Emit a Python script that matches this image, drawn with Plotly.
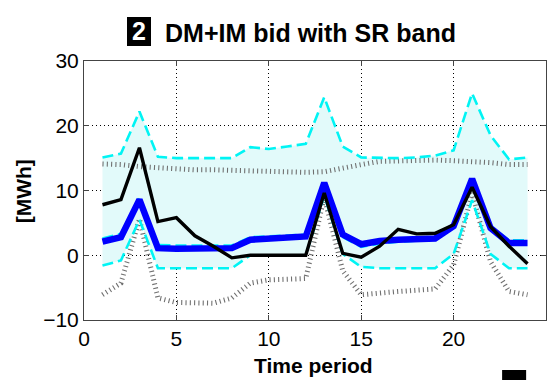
import plotly.graph_objects as go

# Hourly periods
periods = list(range(1, 25))

# Realised energy (black)
realised = [7.8, 8.6, 16.6, 5.2, 5.8, 3.0, 1.4, -0.4, 0.0, 0.0, 0.0, 0.0,
            9.6, 0.3, -0.3, 1.4, 4.0, 3.3, 3.4, 4.7, 10.5, 4.4, 1.4, -1.3]

# DM+IM bid (blue)
bid = [2.1, 2.8, 8.6, 1.1, 1.0, 1.1, 1.2, 1.1, 2.4, 2.6, 2.7, 2.9,
       11.2, 3.2, 1.7, 2.2, 2.4, 2.6, 2.6, 4.5, 11.8, 4.2, 1.9, 1.9]

# Expected scenario (cyan dashed, mostly under the bid)
expected = [2.6, 3.3, 8.9, 1.6, 1.5, 1.5, 1.6, 1.5, 2.8, 2.9, 3.0, 3.2,
            10.8, 2.8, 1.3, 1.8, 2.1, 2.3, 2.4, 4.3, 11.2, 4.5, 2.3, 2.3]

# Scenario envelope (cyan dashed)
upper_band = [15.1, 15.7, 22.2, 15.2, 15.0, 15.0, 14.9, 15.0, 16.7, 16.4, 16.8, 17.2,
              24.4, 16.8, 15.1, 15.0, 15.0, 15.1, 15.4, 16.2, 25.0, 18.5, 14.8, 15.1]
lower_band = [-1.6, -0.8, 5.5, -2.0, -2.0, -2.0, -2.0, -2.0, 0.0, 0.0, 0.0, 0.0,
              9.2, 0.2, -1.8, -2.0, -2.0, -2.0, -2.0, 0.2, 8.5, 0.2, -2.0, -2.0]

# SR band limits (grey dotted)
sr_upper = [14.1, 14.0, 13.7, 13.5, 13.3, 13.2, 13.2, 13.1, 13.0, 12.9, 12.9, 12.8,
            12.9, 13.5, 14.0, 14.5, 14.6, 14.6, 14.7, 14.6, 14.5, 14.3, 14.0, 14.0]
sr_lower = [-6.1, -4.3, 5.6, -6.6, -7.3, -7.4, -7.4, -6.6, -4.3, -3.8, -3.7, -3.6,
            9.0, -2.4, -6.1, -5.8, -5.6, -5.4, -5.2, -1.5, 9.6, -1.0, -5.6, -6.1]

x_ticks = [0, 5, 10, 15, 20, 25]
y_ticks = [-10, 0, 10, 20, 30]

FONT = "Liberation Sans, Arial"

fig = go.Figure()

# light scenario fan
fig.add_trace(go.Scatter(x=periods, y=lower_band, mode="lines",
                         line=dict(width=0), hoverinfo="skip", showlegend=False))
fig.add_trace(go.Scatter(x=periods, y=upper_band, mode="lines", fill="tonexty",
                         fillcolor="#e2fafa", line=dict(width=0),
                         hoverinfo="skip", showlegend=False))

dotted = dict(color="#707070", width=5, dash="1.1px,3.2px")
fig.add_trace(go.Scatter(x=periods, y=sr_upper, mode="lines", line=dotted, showlegend=False))
fig.add_trace(go.Scatter(x=periods, y=sr_lower, mode="lines", line=dotted, showlegend=False))

dashed = dict(color="#00f4f4", width=2.6, dash="11px,5px")
fig.add_trace(go.Scatter(x=periods, y=upper_band, mode="lines", line=dashed, showlegend=False))
fig.add_trace(go.Scatter(x=periods, y=lower_band, mode="lines", line=dashed, showlegend=False))
fig.add_trace(go.Scatter(x=periods, y=expected, mode="lines", line=dashed, showlegend=False))

fig.add_trace(go.Scatter(x=periods, y=bid, mode="lines",
                         line=dict(color="#0000ff", width=6.5), showlegend=False))
fig.add_trace(go.Scatter(x=periods, y=realised, mode="lines",
                         line=dict(color="#000000", width=3.4), showlegend=False))

axis_common = dict(
    showline=True, linecolor="#444444", linewidth=1, mirror="ticks",
    ticks="inside", ticklen=5, tickcolor="#444444",
    showgrid=True, gridcolor="#000000", gridwidth=1, griddash="1px,3px",
    zeroline=False, tickfont=dict(family=FONT, size=21, color="#000000"),
)

fig.update_xaxes(range=[0, 25], tickvals=x_ticks, **axis_common)
fig.update_yaxes(range=[-10, 30], tickvals=y_ticks, **axis_common)

# panel number badge
fig.add_shape(type="rect", xref="paper", yref="paper",
              x0=0.0931, x1=0.1450, y0=1.0579, y1=1.1699,
              fillcolor="#000000", line=dict(width=0), layer="above")
fig.add_annotation(text="<b>2</b>", xref="paper", yref="paper", x=0.119, y=1.116,
                   xanchor="center", yanchor="middle", showarrow=False,
                   font=dict(family=FONT, size=25, color="#ffffff"))
fig.add_annotation(text="<b>DM+IM bid with SR band</b>", xref="paper", yref="paper",
                   x=0.171, y=1.108, xanchor="left", yanchor="middle", showarrow=False,
                   font=dict(family=FONT, size=25, color="#000000"))
fig.add_annotation(text="<b>[MWh]</b>", xref="paper", yref="paper", x=-0.132, y=0.497,
                   textangle=-90, xanchor="center", yanchor="middle", showarrow=False,
                   font=dict(family=FONT, size=21, color="#000000"))
fig.add_annotation(text="<b>Time period</b>", xref="paper", yref="paper", x=0.497, y=-0.174,
                   xanchor="center", yanchor="middle", showarrow=False,
                   font=dict(family=FONT, size=21, color="#000000"))
# badge of the next panel, running off the bottom edge
fig.add_shape(type="rect", xref="paper", yref="paper",
              x0=0.905, x1=0.957, y0=-0.35, y1=-0.193,
              fillcolor="#000000", line=dict(width=0), layer="above")

fig.update_layout(
    width=554, height=380,
    margin=dict(l=84, r=8, t=61, b=60),
    paper_bgcolor="#ffffff", plot_bgcolor="#ffffff",
    showlegend=False,
)

fig.write_html("out.html")
